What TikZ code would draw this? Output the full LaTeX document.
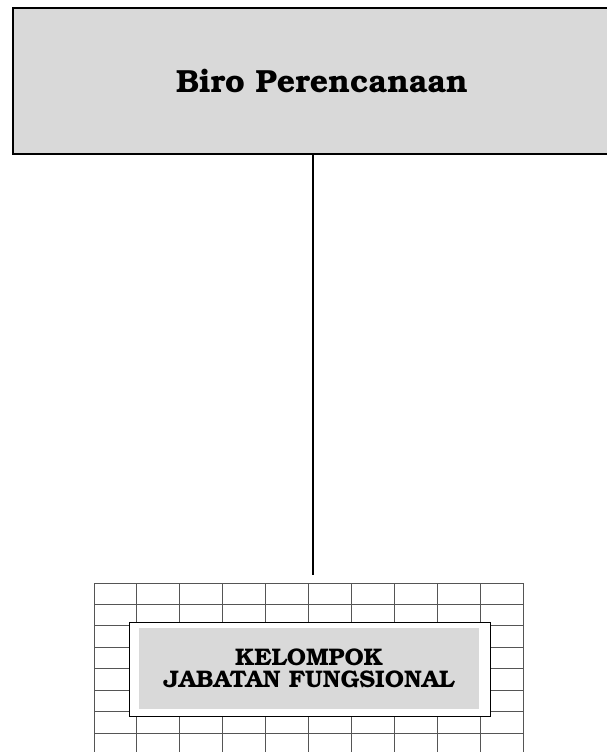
\documentclass[tikz,border=0pt]{standalone}
\usepackage[T1]{fontenc}
\usepackage{bookman}
\usepackage{tikz}
\usetikzlibrary{positioning}
\definecolor{birogray}{HTML}{D9D9D9}
\definecolor{gridgray}{HTML}{555555}
\tikzstyle{topblock} = [rectangle, draw, line width=1.6pt, fill=birogray,
minimum width=618pt, minimum height=146pt, inner sep=0pt]
\tikzstyle{frameblock} = [rectangle, draw, line width=1pt, fill=white,
minimum width=361pt, minimum height=94pt, inner sep=0pt]
\tikzstyle{jfblock} = [rectangle, fill=birogray, text centered,
minimum width=340pt, minimum height=81pt, inner sep=0pt, align=center]
\tikzstyle{gridline} = [gridgray, line width=0.9pt]
\tikzstyle{connect} = [line width=1.5pt]

\begin{document}
\begin{tikzpicture}[x=1pt, y=-1pt]
    \clip (0,0) rectangle (607,752);
    \fill[white] (0,0) rectangle (607,752);
        \node (biro) [topblock, font=\fontsize{32}{36}\selectfont\bfseries] at (322,81) {Biro Perencanaan};
        % grid behind the functional group
        \foreach \i in {0,...,10}
            \draw [gridline] (94+42.9*\i,583) -- (94+42.9*\i,760);
        \foreach \j in {0,...,8}
            \draw [gridline] (94,583+21.45*\j) -- (523,583+21.45*\j);
        \node (frame) [frameblock] at (309.5,669) {};
        \node (jf) [jfblock, font=\fontsize{24}{22}\selectfont\bfseries] at (309,668.5) {KELOMPOK\\ JABATAN FUNGSIONAL};
        \coordinate (lineend) at (313,575);

            \draw [connect] (lineend |- biro.south) -- (lineend);
\end{tikzpicture}
\end{document}
